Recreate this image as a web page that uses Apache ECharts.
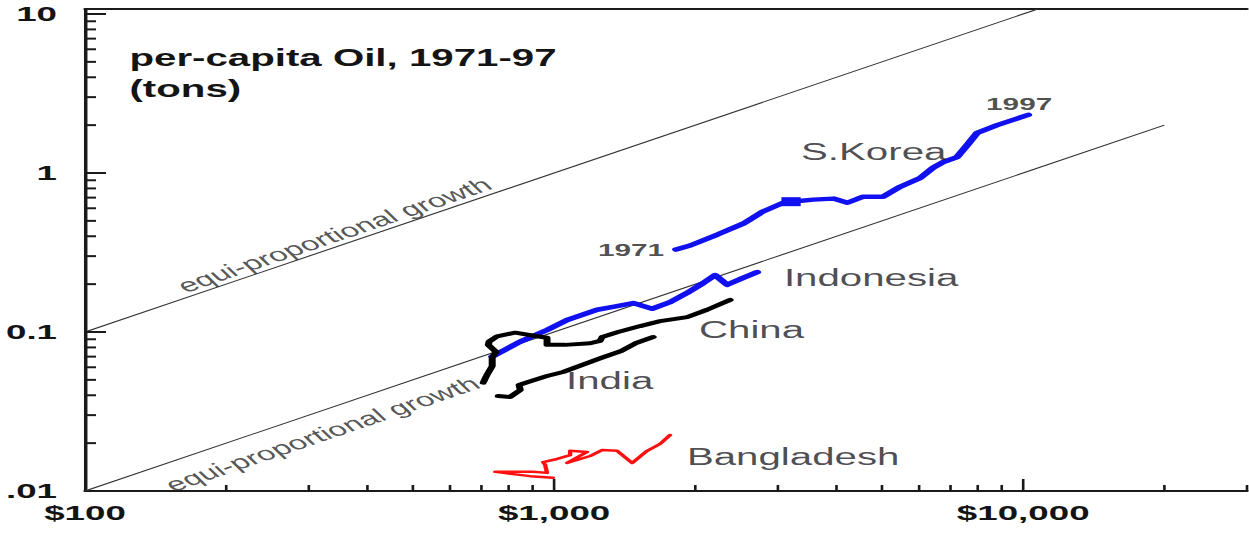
<!DOCTYPE html>
<html>
<head>
<meta charset="utf-8">
<script src="https://cdn.jsdelivr.net/npm/echarts@6/dist/echarts.min.js"></script>
<style>
  html, body { margin: 0; padding: 0; background: #fff; }
  #wrap { width: 1249px; height: 534px; overflow: hidden; position: relative; }
  #chart { width: 714px; height: 534px; transform-origin: 0 0; }
</style>
</head>
<body>
<div id="wrap"><div id="chart"></div></div>
<script>
// Per-capita GDP (x, US$) and per-capita oil use (y, tons), 1971-97
const koreaGdp = [1820, 1950, 2230, 2530, 2780, 3080, 3200, 3570, 3940, 4220, 4560, 5030, 5470, 6030, 6430, 6750, 7230, 7600, 7980, 8800, 10250];
const koreaOil = [0.33, 0.35, 0.41, 0.48, 0.57, 0.65, 0.66, 0.68, 0.69, 0.65, 0.71, 0.71, 0.82, 0.93, 1.08, 1.17, 1.26, 1.50, 1.79, 2.00, 2.32];

const indonesiaGdp = [738, 847, 966, 1066, 1235, 1336, 1474, 1618, 1767, 1921, 2078, 2205, 2338, 2529, 2709];
const indonesiaOil = [0.070, 0.087, 0.103, 0.119, 0.138, 0.144, 0.152, 0.140, 0.154, 0.176, 0.203, 0.228, 0.198, 0.219, 0.238];

const chinaGdp = [706, 720, 738, 738, 752, 724, 727, 756, 826, 920, 966, 966, 1056, 1194, 1253, 1266, 1369, 1526, 1683, 1921, 2119, 2373];
const chinaOil = [0.048, 0.054, 0.061, 0.069, 0.075, 0.083, 0.087, 0.094, 0.099, 0.094, 0.092, 0.083, 0.083, 0.085, 0.088, 0.093, 0.100, 0.109, 0.117, 0.124, 0.138, 0.159];

const indiaGdp = [760, 806, 847, 842, 880, 966, 1045, 1147, 1259, 1390, 1496, 1626];
const indiaOil = [0.0396, 0.0390, 0.0432, 0.0464, 0.0485, 0.0529, 0.0560, 0.0620, 0.0686, 0.0760, 0.0853, 0.0930];

const bangladeshGdp = [995, 889, 779, 749, 806, 902, 966, 957, 947, 1015, 1082, 1082, 1176, 1066, 1194, 1266, 1362, 1467, 1579, 1683, 1767];
const bangladeshOil = [0.0121, 0.0124, 0.0130, 0.0132, 0.0132, 0.0132, 0.0130, 0.0146, 0.0152, 0.0159, 0.0168, 0.0179, 0.0176, 0.0150, 0.0166, 0.0181, 0.0179, 0.0150, 0.0179, 0.0198, 0.0225];

// Reference lines of equal proportional growth (slope 1 on log-log)
const equiHigh = [[100, 0.1], [10750, 10.75]];
const equiLow = [[100, 0.01], [20000, 2]];

// Text placed on the plot, anchored in data coordinates
const countryNames = ['S.Korea', 'Indonesia', 'China', 'India', 'Bangladesh'];
const countryLabelGdp = [3346, 3077, 2028, 1056, 1911];
const countryLabelOil = [1.355, 0.219, 0.103, 0.0492, 0.01636];

const yearNames = ['1971', '1997'];
const yearLabelGdp = [1235, 8299];
const yearLabelOil = [0.328, 2.716];

const equiText = 'equi-proportional growth';
const equiLabelGdp = [339.6, 320];
const equiLabelOil = [0.407, 0.0228];

// Axis ranges, tick labels and tick marks
const xMin = 100, xMax = 30000;
const yMin = 0.01, yMax = 10.75;
const xTickValues = [100, 1000, 10000];
const xTickLabels = ['$100', '$1,000', '$10,000'];
const yTickValues = [0.01, 0.1, 1, 10];
const yTickLabels = ['.01', '0.1', '1', '10'];
const xMajorTicks = [1000, 10000];
const xMinorTicks = [200, 300, 400, 500, 600, 700, 800, 900, 2000, 3000, 4000, 5000, 6000, 7000, 8000, 9000, 20000, 30000];
const yMajorTicks = [0.1, 1, 10];
const yMinorTicks = [0.02, 0.03, 0.04, 0.05, 0.06, 0.07, 0.08, 0.09, 0.2, 0.3, 0.4, 0.5, 0.6, 0.7, 0.8, 0.9, 2, 3, 4, 5, 6, 7, 8, 9];

// The artwork is drawn narrow and widened horizontally
const INNER_W = 714;
const STRETCH = 1249 / INNER_W;
const FONT = '"Liberation Sans", Arial, Helvetica, sans-serif';

const el = document.getElementById('chart');
el.style.transform = 'scaleX(' + STRETCH + ')';

function zip(a, b) { return a.map((v, i) => [v, b[i]]); }
function lookupLabel(values, labels) {
  return function (v) {
    for (let i = 0; i < values.length; i++) {
      if (Math.abs(Math.log10(v) - Math.log10(values[i])) < 1e-6) return labels[i];
    }
    return '';
  };
}

function tickSeries(values, axis, len, width) {
  return {
    type: 'custom',
    silent: true,
    z: 5,
    clip: false,
    data: values.map(v => axis === 'x' ? [v, yMin] : [xMin, v]),
    renderItem: function (params, api) {
      const p = api.coord([api.value(0), api.value(1)]);
      const end = axis === 'x' ? [p[0], p[1] - len] : [p[0] + len, p[1]];
      return {
        type: 'line',
        shape: { x1: p[0], y1: p[1], x2: end[0], y2: end[1] },
        style: { stroke: '#1a1a1a', lineWidth: width }
      };
    }
  };
}

function countryLine(gdp, oil, color, width) {
  return {
    type: 'line',
    data: zip(gdp, oil),
    showSymbol: false,
    symbol: 'none',
    silent: true,
    z: 3,
    lineStyle: { color: color, width: width, cap: 'round', join: 'round' }
  };
}

function textSeries(gdp, oil, names, label) {
  return {
    type: 'scatter',
    silent: true,
    z: 6,
    symbolSize: 1,
    itemStyle: { color: 'rgba(0,0,0,0)' },
    data: gdp.map((g, i) => ({ value: [g, oil[i]], name: names[i] })),
    label: Object.assign({ show: true, formatter: '{b}', fontFamily: FONT }, label)
  };
}

const chart = echarts.init(el, null, { renderer: 'svg' });

// Korea series with a small square mark on one year
const koreaData = zip(koreaGdp, koreaOil);
koreaData[6] = { value: koreaData[6], symbol: 'rect', symbolSize: [11, 9], itemStyle: { color: '#1010f0' } };

chart.setOption({
  animation: false,
  backgroundColor: '#fff',
  textStyle: { fontFamily: FONT },
  title: {
    text: 'per-capita Oil, 1971-97\n(tons)',
    left: 74,
    top: 42,
    padding: 0,
    textStyle: { fontFamily: FONT, fontSize: 23, fontWeight: 'bold', color: '#141414', lineHeight: 31 }
  },
  grid: {
    left: 85 / STRETCH, right: 2 / STRETCH, top: 9, bottom: 43,
    containLabel: false,
    outerBoundsMode: 'none'
  },
  xAxis: [{
    type: 'log',
    logBase: 10,
    min: xMin,
    max: xMax,
    axisLine: { show: true, lineStyle: { color: '#1a1a1a', width: 2 } },
    axisTick: { show: false },
    splitLine: { show: false },
    axisLabel: {
      formatter: lookupLabel(xTickValues, xTickLabels),
      margin: 11, fontSize: 21, fontWeight: 'bold', color: '#141414', fontFamily: FONT
    }
  }, {
    type: 'log',
    logBase: 10,
    min: xMin,
    max: xMax,
    position: 'top',
    axisLine: { show: true, lineStyle: { color: '#1a1a1a', width: 2 } },
    axisTick: { show: false },
    splitLine: { show: false },
    axisLabel: { show: false }
  }],
  yAxis: {
    type: 'log',
    logBase: 10,
    min: yMin,
    max: yMax,
    axisLine: { show: true, lineStyle: { color: '#1a1a1a', width: 2 } },
    axisTick: { show: false },
    splitLine: { show: false },
    axisLabel: {
      formatter: lookupLabel(yTickValues, yTickLabels),
      margin: 16, fontSize: 21, fontWeight: 'bold', color: '#141414', fontFamily: FONT
    }
  },
  series: [
    {
      type: 'line', data: equiHigh, symbol: 'none', silent: true, z: 2,
      lineStyle: { color: '#333', width: 1 }
    },
    {
      type: 'line', data: equiLow, symbol: 'none', silent: true, z: 2,
      lineStyle: { color: '#333', width: 1 }
    },
    {
      type: 'line',
      data: koreaData,
      showSymbol: true,
      symbol: 'none',
      silent: true,
      z: 3,
      lineStyle: { color: '#1010f0', width: 4.5, cap: 'round', join: 'round' }
    },
    countryLine(indonesiaGdp, indonesiaOil, '#1010f0', 4.5),
    countryLine(chinaGdp, chinaOil, '#000', 4),
    countryLine(indiaGdp, indiaOil, '#000', 4),
    countryLine(bangladeshGdp, bangladeshOil, '#ff1010', 2.5),
    textSeries(countryLabelGdp, countryLabelOil, countryNames, {
      position: 'right', distance: 0, fontSize: 23, color: '#1e1e26'
    }),
    textSeries(yearLabelGdp, yearLabelOil, yearNames, {
      position: 'right', distance: 0, fontSize: 17, fontWeight: 'bold', color: '#222'
    }),
    textSeries(equiLabelGdp, equiLabelOil, [equiText, equiText], {
      position: 'inside', rotate: 30.7, fontSize: 19, color: '#2a2a2a', align: 'center', verticalAlign: 'middle'
    }),
    tickSeries(xMajorTicks, 'x', 12, 1.5),
    tickSeries(xMinorTicks, 'x', 6, 1.5),
    tickSeries(yMajorTicks, 'y', 12, 2),
    tickSeries(yMinorTicks, 'y', 6.3, 2)
  ]
});
</script>
</body>
</html>
